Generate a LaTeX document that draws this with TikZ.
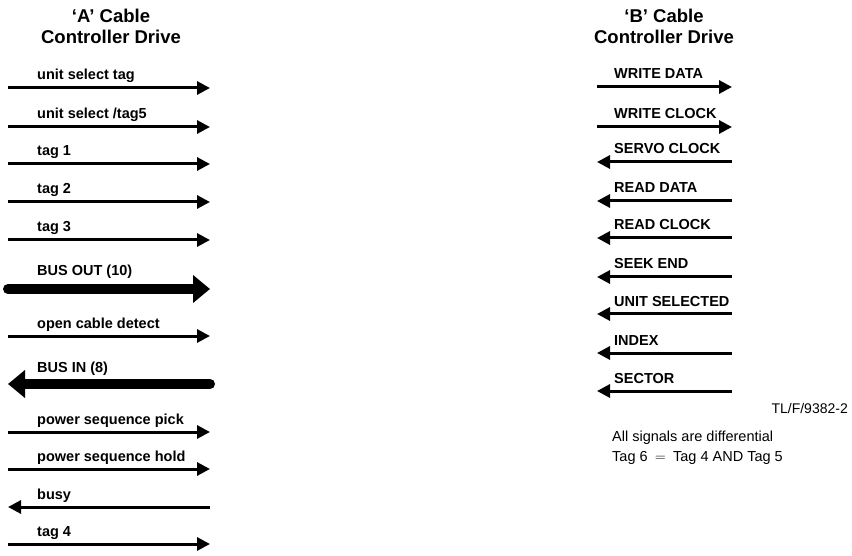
\documentclass[tikz,border=0pt]{standalone}
\usepackage{fontspec}
\setmainfont{Liberation Sans}
\usetikzlibrary{arrows.meta}

\begin{document}
\begin{tikzpicture}[x=1pt, y=-1pt,
    title/.style={font=\fontsize{18.5}{22}\selectfont\bfseries, inner sep=0pt},
    sig/.style={font=\fontsize{14.5}{17}\selectfont\bfseries, anchor=base west, inner sep=0pt},
    note/.style={font=\fontsize{14.5}{17}\selectfont, anchor=base west, inner sep=0pt},
    wire/.style={line width=3pt, -{Triangle[length=13pt, width=13pt]}},
    wireL/.style={line width=3pt, {Triangle[length=13pt, width=13pt]}-},
    bus/.style={line width=10pt, line cap=round, -{Triangle[length=17pt, width=27pt]}},
    busL/.style={line width=10pt, line cap=round, {Triangle[length=17pt, width=27pt]}-},
]
\useasboundingbox (0,0) rectangle (852,556);

% A cable
\node[title] (ta1) at (111,16) {‘A’ Cable};
\node[title] (ta2) at (111,37) {Controller Drive};
\foreach \txt/\y/\st/\dy [count=\i] in {
    unit select tag/88/wire/8, {unit select /tag5}/127/wire/8,
    tag 1/164/wire/8, tag 2/202/wire/8, tag 3/240/wire/8,
    BUS OUT (10)/289/bus/13, open cable detect/336/wire/8,
    BUS IN (8)/384/busL/12, power sequence pick/432/wire/8,
    power sequence hold/469/wire/8, busy/507/wireL/8, tag 4/544/wire/8} {
  \coordinate (al\i) at (8,\y);
  \coordinate (ar\i) at (210,\y);
  \node[sig] (la\i) at ([shift={(29,-\dy)}]al\i) {\txt};
  \draw[\st] (al\i) -- (ar\i);
}

% B cable
\node[title] (tb1) at (664,16) {‘B’ Cable};
\node[title] (tb2) at (664,37) {Controller Drive};
\foreach \txt/\y/\st [count=\i] in {
    WRITE DATA/87/wire, WRITE CLOCK/127/wire, SERVO CLOCK/162/wireL,
    READ DATA/201/wireL, READ CLOCK/238/wireL, SEEK END/277/wireL,
    UNIT SELECTED/314/wireL, INDEX/353/wireL, SECTOR/391/wireL} {
  \coordinate (bl\i) at (597,\y);
  \coordinate (br\i) at (732,\y);
  \node[sig] (lb\i) at ([shift={(17,-8)}]bl\i) {\txt};
  \draw[\st] (bl\i) -- (br\i);
}

% notes
\node[font=\fontsize{14}{16}\selectfont, anchor=base east, inner sep=0pt] (fig) at (848,413) {TL/F/9382-2};
\node[note] (n1) at (612,441) {All signals are differential};
\node[note] (n2) at (612,461) {Tag 6\enspace$=$\enspace Tag 4 AND Tag 5};
\end{tikzpicture}
\end{document}
